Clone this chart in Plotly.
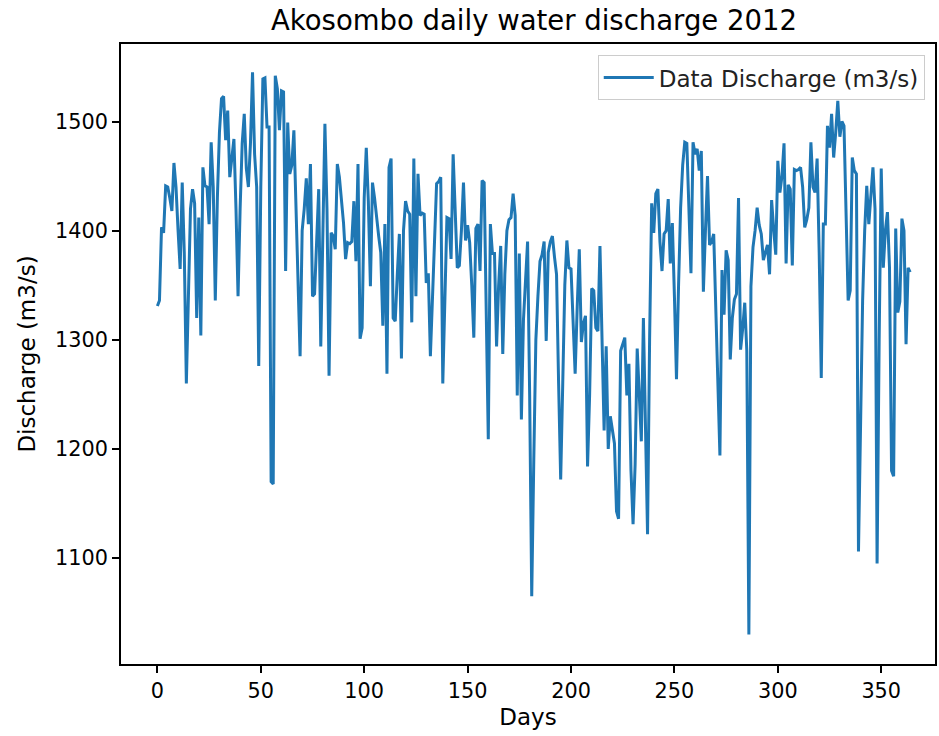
import plotly.graph_objects as go

# Daily discharge values (m3/s), day 0..364
discharge = [
    1331, 1336, 1403, 1398, 1441, 1440, 1430, 1418, 1462, 1440,
    1400, 1365, 1444, 1380, 1260, 1330, 1420, 1438, 1425, 1320,
    1412, 1304, 1458, 1441, 1440, 1406, 1481, 1440, 1336, 1430,
    1490, 1521, 1523, 1483, 1510, 1449, 1470, 1484, 1420, 1340,
    1420, 1480, 1507, 1457, 1440, 1480, 1545, 1470, 1440, 1276,
    1440, 1539, 1540, 1495, 1495, 1170, 1168, 1542, 1530, 1492,
    1528, 1527, 1363, 1499, 1452, 1460, 1492, 1420, 1350, 1285,
    1400, 1420, 1448, 1406, 1461, 1340, 1342, 1400, 1438, 1294,
    1400, 1498, 1420, 1267, 1398, 1395, 1383, 1461, 1449, 1430,
    1407, 1374, 1389, 1388, 1390, 1427, 1372, 1461, 1301, 1311,
    1430, 1476, 1427, 1349, 1444, 1430, 1410, 1395, 1380, 1313,
    1406, 1269, 1458, 1466, 1320, 1317, 1360, 1397, 1283, 1400,
    1427, 1418, 1415, 1316, 1466, 1340, 1452, 1414, 1416, 1415,
    1352, 1361, 1285, 1340, 1400, 1443, 1445, 1449, 1260, 1340,
    1412, 1411, 1374, 1470, 1420, 1366, 1368, 1400, 1444, 1391,
    1405, 1389, 1350, 1302, 1402, 1406, 1363, 1446, 1444, 1320,
    1209, 1406, 1379, 1379, 1294, 1350, 1386, 1287, 1360, 1400,
    1410, 1412, 1434, 1414, 1249, 1379, 1227, 1318, 1350, 1390,
    1250, 1065, 1190, 1300, 1340, 1372, 1378, 1390, 1299, 1380,
    1390, 1395, 1376, 1360, 1260, 1172, 1260, 1350, 1391, 1366,
    1365, 1310, 1269, 1330, 1383, 1298, 1315, 1322, 1184, 1250,
    1347, 1345, 1311, 1308, 1386, 1300, 1217, 1294, 1200, 1230,
    1215, 1205, 1143, 1136, 1290, 1296, 1302, 1249, 1278, 1180,
    1131, 1186, 1292, 1250, 1207, 1320, 1220, 1122, 1300, 1425,
    1398, 1434, 1438, 1390, 1363, 1397, 1400, 1429, 1370, 1407,
    1340, 1264, 1350, 1421, 1460, 1481, 1480, 1420, 1361, 1481,
    1470, 1475, 1455, 1473, 1344, 1400, 1450, 1387, 1390, 1397,
    1321, 1250, 1194, 1364, 1323, 1382, 1373, 1282, 1320, 1337,
    1342, 1430, 1291, 1310, 1334, 1290, 1030, 1349, 1385, 1400,
    1421, 1405, 1397, 1373, 1380, 1387, 1360, 1428, 1401, 1378,
    1464, 1435, 1450, 1480, 1370, 1442, 1438, 1368, 1456, 1455,
    1456, 1458, 1440, 1403, 1410, 1421, 1481, 1440, 1435, 1466,
    1380, 1265, 1406, 1406, 1496, 1476, 1507, 1467, 1490, 1519,
    1486, 1500, 1496, 1420, 1336, 1345, 1467, 1455, 1452, 1106,
    1230, 1336, 1400, 1441, 1406, 1430, 1458, 1420, 1095, 1300,
    1457, 1366, 1400, 1417, 1366, 1180, 1175, 1402, 1325, 1335,
    1411, 1400, 1296, 1366, 1362,
]
days = list(range(len(discharge)))

x_ticks = [0, 50, 100, 150, 200, 250, 300, 350]
y_ticks = [1100, 1200, 1300, 1400, 1500]

series_name = "Data Discharge (m3/s)"
title_text = "Akosombo daily water discharge 2012"
x_label = "Days"
y_label = "Discharge (m3/s)"

fig = go.Figure()
fig.add_trace(go.Scatter(
    x=days, y=discharge, mode="lines", name=series_name,
    line=dict(color="#1f77b4", width=3),
))

axis_common = dict(
    showgrid=False, zeroline=False,
    showline=True, linecolor="black", linewidth=1.7, mirror=True,
    ticks="outside", ticklen=7, tickwidth=1.7, tickcolor="black",
    tickfont=dict(size=20.8, color="black"),
)

fig.update_layout(
    width=939, height=736,
    margin=dict(l=121, r=2, t=44, b=72),
    paper_bgcolor="white", plot_bgcolor="white",
    font=dict(family="DejaVu Sans", size=20.8, color="black"),
    title=dict(text=title_text, x=534 / 939, xanchor="center",
               y=1 - 20 / 736, yanchor="middle", yref="container",
               font=dict(size=27.5, color="black")),
    showlegend=True,
    legend=dict(x=0.9874, y=0.982, xanchor="right", yanchor="top",
                bordercolor="#cccccc", borderwidth=1,
                bgcolor="rgba(255,255,255,0.8)", itemwidth=50,
                font=dict(size=23, color="#222222")),
    xaxis=dict(range=[-17.6, 376], tickvals=x_ticks,
               title=dict(text=x_label, standoff=7, font=dict(size=23)),
               **axis_common),
    yaxis=dict(range=[1003, 1571], tickvals=y_ticks,
               title=dict(text=y_label, standoff=13, font=dict(size=23)),
               **axis_common),
)

fig.write_html("out.html")
